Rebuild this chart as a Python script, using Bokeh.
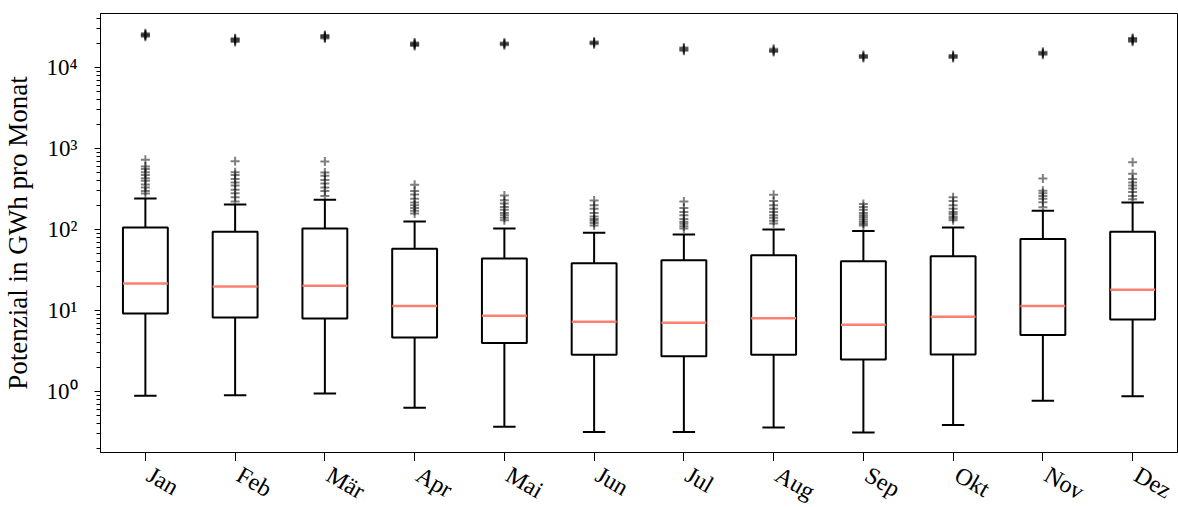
import math
from bokeh.plotting import figure
from bokeh.layouts import column
from bokeh.core.properties import value
from bokeh.models import (ColumnDataSource, Range1d, FixedTicker, CustomJSTickFormatter, LogTicker)
from bokeh.embed import file_html
from bokeh.resources import INLINE

# ---- data ----
months = ["Jan", "Feb", "Mär", "Apr", "Mai", "Jun", "Jul", "Aug", "Sep", "Okt", "Nov", "Dez"]
whisker_low = [0.89, 0.90, 0.95, 0.63, 0.367, 0.318, 0.318, 0.36, 0.312, 0.388, 0.77, 0.875]
q1 = [9.2, 8.2, 7.96, 4.64, 3.99, 2.84, 2.73, 2.84, 2.48, 2.86, 5.0, 7.74]
median = [21.5, 19.8, 20.2, 11.4, 8.6, 7.3, 7.06, 8.05, 6.7, 8.4, 11.4, 18.0]
q3 = [106, 94, 103, 57.8, 43.9, 38.3, 41.9, 48.3, 40.6, 46.8, 76.6, 93.6]
whisker_high = [241, 204, 233, 126, 103, 91, 87, 100, 96, 106, 170, 215]
outliers = [
    [279, 300, 330, 360, 400, 430, 470, 510, 560, 600, 729, 24000, 24600, 25200, 25800, 26500],
    [222, 250, 280, 310, 350, 380, 420, 470, 510, 697, 20600, 21200, 21800, 22400, 23000],
    [260, 300, 330, 370, 410, 460, 506, 690, 22800, 23400, 24000, 24600, 25200],
    [158, 170, 185, 200, 215, 240, 270, 300, 356, 18400, 18900, 19400, 19900, 20400],
    [130, 140, 150, 160, 175, 190, 210, 230, 263, 18800, 19300, 19800, 20300],
    [112, 120, 128, 135, 145, 160, 180, 200, 228, 19400, 19900, 20400, 20900],
    [103, 110, 118, 125, 135, 150, 165, 185, 222, 16100, 16600, 17100, 17600],
    [119, 128, 140, 150, 165, 180, 200, 225, 268, 15500, 16000, 16500, 17000],
    [112, 118, 125, 133, 142, 150, 160, 175, 190, 207, 13100, 13500, 13900, 14300],
    [130, 138, 145, 155, 165, 180, 200, 225, 251, 13100, 13500, 13900, 14300],
    [188, 217, 240, 260, 280, 302, 426, 14400, 14800, 15200, 15600],
    [236, 260, 290, 320, 350, 380, 420, 488, 677, 20800, 21400, 22000, 22600, 23200],
]
y_label = "Potenzial in GWh pro Monat"

# ---- build ----
W, H = 1178, 507
B_LEFT, B_RIGHT, B_TOP, B_BOTTOM = 100, 1, 13, 9
H1 = 461
pos = list(range(1, len(months) + 1))
box_w = 0.5
cap_w = 0.25
xr = Range1d(0.5, len(months) + 0.5)
src = ColumnDataSource(dict(
    x=pos, q1=q1, q3=q3, med=median, lo=whisker_low, hi=whisker_high,
    left=[x - box_w / 2 for x in pos], right=[x + box_w / 2 for x in pos],
    cl=[x - cap_w / 2 for x in pos], cr=[x + cap_w / 2 for x in pos],
))
ox, oy = [], []
for i, vals in enumerate(outliers):
    for v in vals:
        ox.append(pos[i])
        oy.append(v)
osrc = ColumnDataSource(dict(x=ox, y=oy))

p = figure(width=W, height=H1, x_range=xr, y_range=Range1d(0.177, 46400),
           y_axis_type="log", output_backend="svg", toolbar_location=None,
           min_border_left=B_LEFT, min_border_top=B_TOP, min_border_right=B_RIGHT,
           min_border_bottom=B_BOTTOM)
p.xgrid.visible = False
p.ygrid.visible = False
p.outline_line_color = "black"
p.outline_line_width = 1
p.outline_line_alpha = 1

lw = 2
p.vbar(x="x", width=box_w, bottom="q1", top="q3", source=src, fill_color=None,
       line_color="black", line_width=lw)
p.segment(x0="x", y0="q3", x1="x", y1="hi", source=src, line_color="black", line_width=lw)
p.segment(x0="x", y0="q1", x1="x", y1="lo", source=src, line_color="black", line_width=lw)
p.segment(x0="cl", y0="hi", x1="cr", y1="hi", source=src, line_color="black", line_width=lw)
p.segment(x0="cl", y0="lo", x1="cr", y1="lo", source=src, line_color="black", line_width=lw)
p.segment(x0="left", y0="med", x1="right", y1="med", source=src, line_color="#FA8072", line_width=2.5)
p.scatter(x="x", y="y", source=osrc, marker="cross", size=9, line_color="black",
          line_alpha=0.5, line_width=2)

font = "Liberation Serif"
p.xaxis.ticker = FixedTicker(ticks=pos)
p.xaxis.major_label_overrides = {x: "" for x in pos}
p.xaxis.major_label_text_font_size = "0px"
p.xaxis.minor_tick_line_color = None
p.xaxis.major_tick_in = 0
p.xaxis.major_tick_out = 9
p.xaxis.major_label_standoff = 0
p.xaxis.axis_line_color = "black"
p.xaxis.major_tick_line_color = "black"

p.yaxis.ticker = LogTicker(num_minor_ticks=10)
p.yaxis.formatter = CustomJSTickFormatter(code="""
const sup = {'0':'\u2070','1':'\u00b9','2':'\u00b2','3':'\u00b3','4':'\u2074','5':'\u2075','6':'\u2076','7':'\u2077','8':'\u2078','9':'\u2079','-':'\u207b'};
const e = Math.round(Math.log10(tick));
return '10' + String(e).split('').map(c => sup[c]).join('');
""")
p.yaxis.major_tick_in = 0
p.yaxis.minor_tick_in = 0
p.yaxis.major_tick_out = 6
p.yaxis.minor_tick_out = 4
p.yaxis.major_label_standoff = 17
p.yaxis.axis_label = y_label
p.yaxis.axis_label_standoff = 10
p.yaxis.axis_line_color = "black"
p.yaxis.major_tick_line_color = "black"
p.yaxis.minor_tick_line_color = "black"
p.yaxis.major_label_text_font = font
p.yaxis.major_label_text_font_size = "23px"
p.yaxis.major_label_text_color = "black"
p.yaxis.axis_label_text_font = font
p.yaxis.axis_label_text_font_size = "27px"
p.yaxis.axis_label_text_font_style = "normal"
p.yaxis.axis_label_text_color = "black"

# month labels: a strip below the plot that shares the x range and borders
p2 = figure(width=W, height=H - H1, output_backend="svg", toolbar_location=None,
            x_range=xr, y_range=Range1d(0, 1),
            x_axis_location=None, y_axis_location=None,
            min_border_left=B_LEFT, min_border_right=B_RIGHT, min_border_top=0, min_border_bottom=0)
p2.xgrid.visible = False
p2.ygrid.visible = False
p2.outline_line_color = None
lsrc = ColumnDataSource(dict(x=pos, text=months))
p2.text(x="x", y=1, text="text", source=lsrc, angle=-30, angle_units="deg",
        text_align="left", text_baseline="top", x_offset=10,
        text_font=value(font), text_font_size=value("24px"), text_color="black")

layout = column(p, p2, spacing=0)
open("out.html", "w").write(file_html(layout, INLINE))
